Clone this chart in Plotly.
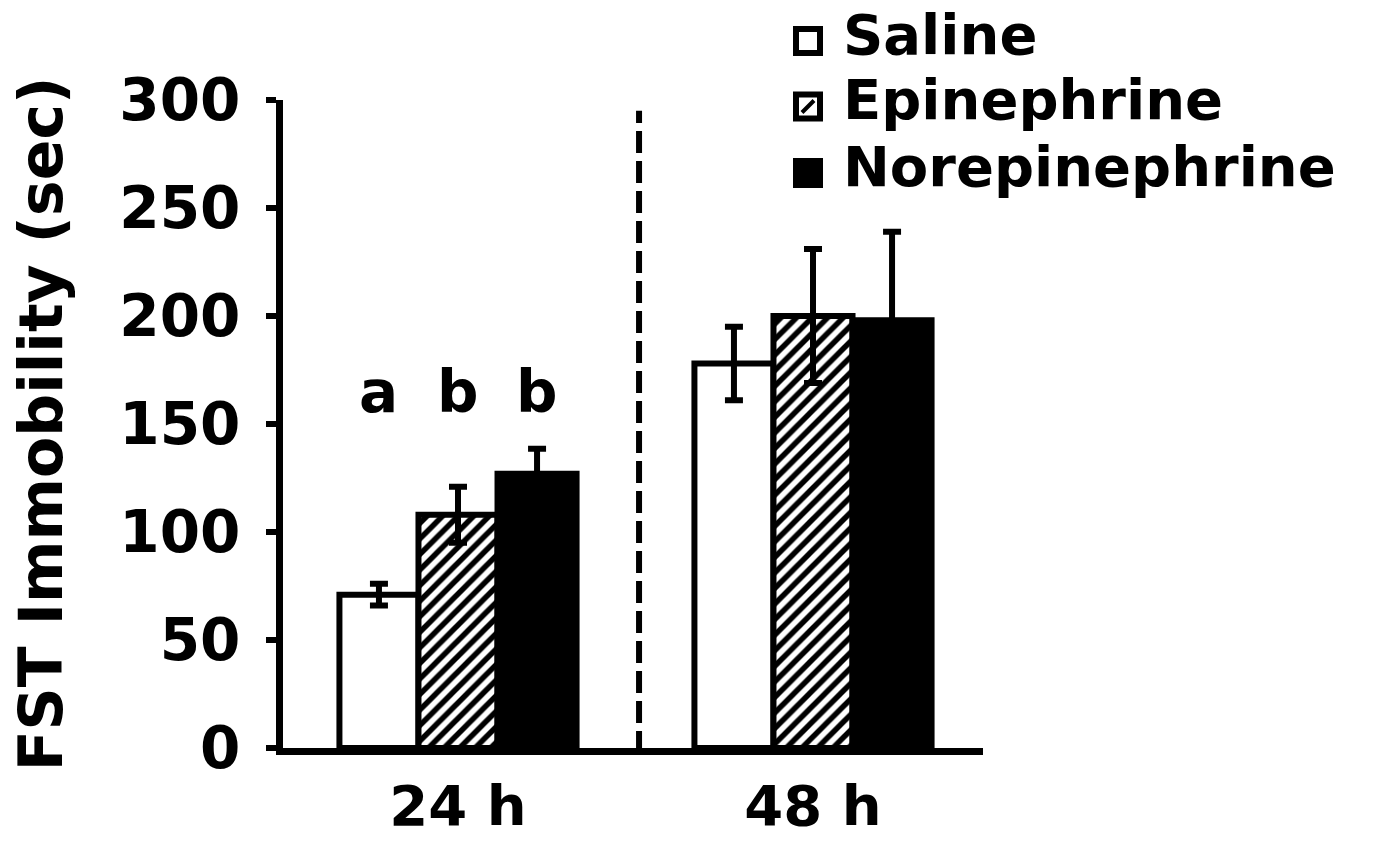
import plotly.graph_objects as go

# ---- data ----
groups = ["24 h", "48 h"]
series = ["Saline", "Epinephrine", "Norepinephrine"]
saline_mean = [71, 178]
saline_err = [5, 17]
epi_mean = [108, 200]
epi_err = [13, 31]
nor_mean = [127, 198]
nor_err = [11.5, 41]
sig_letters = ["a", "b", "b"]  # 24 h group
sig_letter_y = 165
y_ticks = [0, 50, 100, 150, 200, 250, 300]

# ---- layout geometry (pixels) ----
W, H = 1380, 842
L, R, T, B = 283, 983, 100, 748
C0, SPACING = 458, 355  # pixel centre of first group and group spacing
BARGAP = 0.332
FONT = "DejaVu Sans"
FS = 58
XT_FS = 56
LEG_FS = 56
TITLE_FS = 60


def px_x(px):
    return (px - L) / (R - L)


def px_y(py):
    return (B - py) / (B - T)


xpos = list(range(len(groups)))
xr = [(L - C0) / SPACING, (R - C0) / SPACING]

fig = go.Figure()
styles = [
    dict(color="white", pattern=None),
    dict(color="white", pattern=dict(shape="/", fgcolor="black", bgcolor="white",
                                     fgopacity=1, fillmode="replace", size=11, solidity=0.5)),
    dict(color="black", pattern=None),
]
means = [saline_mean, epi_mean, nor_mean]
errs = [saline_err, epi_err, nor_err]
for name, m, e, st in zip(series, means, errs, styles):
    marker = dict(color=st["color"], line=dict(color="black", width=6))
    if st["pattern"]:
        marker["pattern"] = st["pattern"]
    fig.add_trace(go.Bar(
        name=name, x=xpos, y=m,
        marker=marker,
        error_y=dict(type="data", array=e, visible=True, color="black", thickness=6, width=9),
        showlegend=False,
    ))

bar_w = (1 - BARGAP) / len(series)
annotations = []
for i, letter in enumerate(sig_letters):
    annotations.append(dict(
        x=xpos[0] + (i - 1) * bar_w, y=sig_letter_y, xref="x", yref="y",
        text=letter, showarrow=False, font=dict(size=FS, family=FONT, color="black", weight="bold"),
        xanchor="center", yanchor="middle",
    ))

# custom legend
leg_centers_y = [41, 106.5, 173]
box_cx, box_half = 808, 12
shapes = []
for name, cy, st in zip(series, leg_centers_y, styles):
    shapes.append(dict(
        type="rect", xref="paper", yref="paper",
        x0=px_x(box_cx - box_half), x1=px_x(box_cx + box_half),
        y0=px_y(cy + box_half), y1=px_y(cy - box_half),
        line=dict(color="black", width=6), fillcolor=st["color"], layer="above",
    ))
    if st["pattern"]:
        shapes.append(dict(
            type="line", xref="paper", yref="paper",
            x0=px_x(box_cx - 6), x1=px_x(box_cx + 6),
            y0=px_y(cy + 6), y1=px_y(cy - 6),
            line=dict(color="black", width=4), layer="above",
        ))
    annotations.append(dict(
        x=px_x(841), y=px_y(cy - 7), xref="paper", yref="paper",
        text=name, showarrow=False, xanchor="left", yanchor="middle",
        font=dict(size=LEG_FS, family=FONT, color="black", weight="bold"),
    ))

# dashed separator between time points
shapes.append(dict(
    type="line", xref="x", yref="y", x0=0.51, x1=0.51, y0=-2.3, y1=295,
    line=dict(color="black", width=6, dash="22px,8px"), layer="above",
))
# small tick below the origin
shapes.append(dict(
    type="line", xref="paper", yref="y", x0=px_x(L - 3), x1=px_x(L - 3), y0=0, y1=-6.5,
    line=dict(color="black", width=7),
))

fig.update_layout(
    width=W, height=H,
    margin=dict(l=L, r=W - R, t=T, b=H - B, pad=0, autoexpand=False),
    paper_bgcolor="white", plot_bgcolor="white",
    barmode="group", bargap=BARGAP, bargroupgap=0,
    font=dict(family=FONT, size=FS, color="black", weight="bold"),
    annotations=annotations, shapes=shapes,
    xaxis=dict(
        range=xr, tickvals=xpos, ticktext=groups, showgrid=False, zeroline=False,
        showline=True, linecolor="black", linewidth=7, ticks="", ticklabelstandoff=3,
        automargin=False,
        tickfont=dict(size=XT_FS, family=FONT, color="black", weight="bold"),
    ),
    yaxis=dict(
        range=[0, 300], tickvals=y_ticks, showgrid=False, zeroline=False,
        showline=True, linecolor="black", linewidth=7, ticks="outside", ticklen=10,
        tickwidth=6, tickcolor="black", ticklabelstandoff=14, automargin=False,
        tickfont=dict(size=FS, family=FONT, color="black", weight="bold"),
        title=dict(text="FST Immobility (sec)", standoff=40,
                   font=dict(size=TITLE_FS, family=FONT, color="black", weight="bold")),
    ),
)

fig.write_html("out.html")
